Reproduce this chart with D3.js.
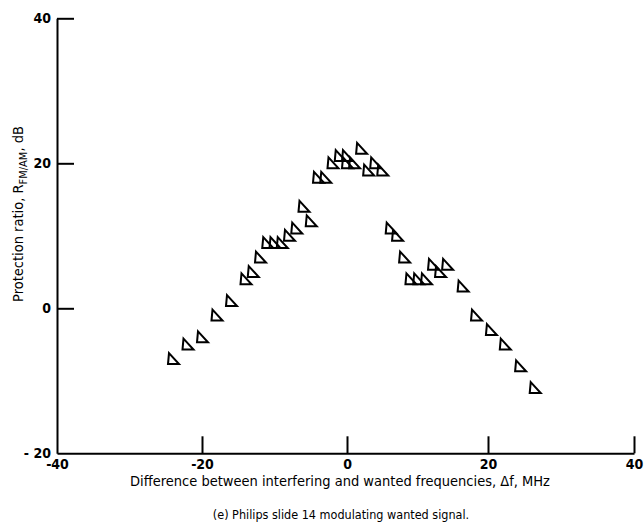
<!DOCTYPE html>
<html>
<head>
<meta charset="utf-8">
<script src="https://cdn.jsdelivr.net/npm/d3@7"></script>
<style>
body { margin: 0; background: #fff; }
svg text { font-family: "Liberation Sans Narrow", "DejaVu Sans Condensed", "Liberation Sans", sans-serif; }
</style>
</head>
<body>
<div id="chart"></div>
<script>
// values
var freqDiff = [-24, -22, -20, -18, -16, -14, -13, -12, -11, -10, -9, -8, -7, -6, -5, -4, -3, -2, -1, 0, 0, 1, 2, 3, 4, 5,
                6.2, 7.1, 8.1, 9, 10.1, 11.2, 12.2, 13.2, 14.2, 16.4, 18.3, 20.4, 22.3, 24.4, 26.4];
var protRatio = [-7, -5, -4, -1, 1, 4, 5, 7, 9, 9, 9, 10, 11, 14, 12, 18, 18, 20, 21, 21, 20, 20, 22, 19, 20, 19,
                 11, 10, 7, 4, 4, 4, 6, 5, 6, 3, -1, -3, -5, -8, -11];
var xTicks = [-40, -20, 0, 20, 40];
var yTicks = [-20, 0, 20, 40];

var width = 644, height = 532;

var svg = d3.select("#chart").append("svg")
  .attr("width", width)
  .attr("height", height);

// the scanned axis is slightly uneven, so map each tick to where it sits
var x = d3.scaleLinear()
  .domain([-40, -20, 0, 20, 40])
  .range([57, 202, 347, 488, 634]);
var y = d3.scaleLinear()
  .domain([-20, 40])
  .range([453.3, 18.3]);

// x axis, ticks pointing inward
var xAxis = svg.append("g")
  .attr("transform", "translate(0," + y(-20) + ")")
  .call(d3.axisBottom(x).tickValues(xTicks).tickSize(-17).tickSizeOuter(0).tickPadding(5)
    .tickFormat(function(d) { return d < 0 ? "-" + Math.abs(d) : d; }));
xAxis.select(".domain").attr("stroke-width", 2).attr("stroke", "#000");
xAxis.selectAll(".tick line").attr("stroke-width", 2).attr("stroke", "#000");
xAxis.selectAll(".tick text")
  .attr("font-size", 14).attr("font-weight", "bold").attr("fill", "#000")
  .attr("dy", "0.55em").attr("transform", "translate(0,3)");
xAxis.selectAll(".tick").filter(function(d) { return d === -40; }).select("line").remove();

// y axis
var yAxis = svg.append("g")
  .attr("transform", "translate(" + x(-40) + ",0)")
  .call(d3.axisLeft(y).tickValues(yTicks).tickSize(-17).tickSizeOuter(0).tickPadding(6)
    .tickFormat(function(d) { return d < 0 ? "- " + Math.abs(d) : d; }));
yAxis.select(".domain").attr("stroke-width", 2).attr("stroke", "#000");
yAxis.selectAll(".tick line").attr("stroke-width", 2).attr("stroke", "#000");
yAxis.selectAll(".tick text")
  .attr("font-size", 14).attr("font-weight", "bold").attr("fill", "#000");
yAxis.selectAll(".tick").filter(function(d) { return d === -20; }).select("line").remove();

// triangle markers
var tri = "M-4,-6 L6,5 L-5,5 Z";
svg.selectAll(".pt")
  .data(freqDiff)
  .enter()
  .append("path")
  .attr("class", "pt")
  .attr("d", tri)
  .attr("transform", function(d, i) { return "translate(" + x(d) + "," + y(protRatio[i]) + ")"; })
  .attr("fill", "none")
  .attr("stroke", "#000")
  .attr("stroke-width", 2)
  .attr("stroke-linejoin", "miter");

// axis titles
svg.append("text")
  .attr("x", 340).attr("y", 486)
  .attr("text-anchor", "middle")
  .attr("font-size", 14.5)
  .attr("fill", "#000")
  .text("Difference between interfering and wanted frequencies,  \u0394f,  MHz");

svg.append("text")
  .attr("x", 341).attr("y", 519)
  .attr("text-anchor", "middle")
  .attr("font-size", 12.5)
  .attr("fill", "#000")
  .text("(e) Philips slide 14 modulating wanted signal.");

var yl = svg.append("text")
  .attr("transform", "translate(23,214) rotate(-90)")
  .attr("text-anchor", "middle")
  .attr("font-size", 14.5)
  .attr("fill", "#000");
yl.append("tspan").text("Protection ratio,  R");
yl.append("tspan").attr("font-size", 11).attr("dy", 4).text("FM/AM");
yl.append("tspan").attr("dy", -4).text(",  dB");
</script>
</body>
</html>
